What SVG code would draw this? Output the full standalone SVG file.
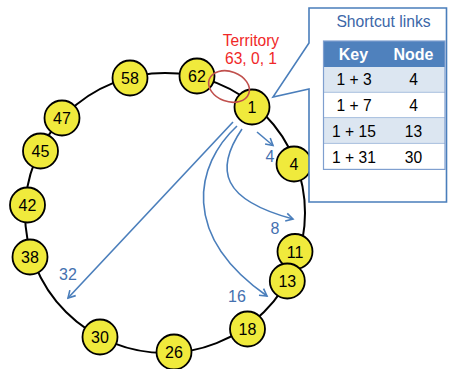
<svg xmlns="http://www.w3.org/2000/svg" width="449" height="369" viewBox="0 0 449 369">
<style>
  .node circle { fill: #F0EA3C; stroke: #000; stroke-width: 1.8; }
  .node text { font-family: "Liberation Sans", Arial, sans-serif; font-size: 16px; fill: #000; text-anchor: middle; }
  .conn { fill: none; stroke: #4A7EBB; stroke-width: 1.6; }
  .lbl { font-family: "Liberation Sans", Arial, sans-serif; font-size: 16px; fill: #4471B0; text-anchor: middle; }
  .red { font-family: "Liberation Sans", Arial, sans-serif; font-size: 15.6px; fill: #F02828; text-anchor: middle; }
  .cell { font-family: "Liberation Sans", Arial, sans-serif; font-size: 15.6px; fill: #000; text-anchor: middle; }
  .hdr { font-family: "Liberation Sans", Arial, sans-serif; font-size: 16px; font-weight: bold; fill: #fff; text-anchor: middle; }
</style>
<defs>
  <marker id="arr" markerWidth="10" markerHeight="10" refX="8" refY="5" orient="auto" markerUnits="userSpaceOnUse">
    <path d="M1,1 L8,5 L1,9" fill="none" stroke="#4A7EBB" stroke-width="1.6"/>
  </marker>
</defs>
<rect width="449" height="369" fill="#fff"/>
<circle id="ring" cx="165" cy="213" r="140" fill="none" stroke="#000" stroke-width="2"/>
<g id="connectors">
  <path class="conn" d="M257,132 L273,145.5" marker-end="url(#arr)"/>
  <path class="conn" d="M242,129 C214,170 222,200 293,219" marker-end="url(#arr)"/>
  <path class="conn" d="M237,126 C195,165 180,235 267,296" marker-end="url(#arr)"/>
  <path class="conn" d="M233,122 L68,298" marker-end="url(#arr)"/>
  <text class="lbl" x="270" y="162">4</text>
  <text class="lbl" x="275" y="234">8</text>
  <text class="lbl" x="237" y="302">16</text>
  <text class="lbl" x="68" y="280">32</text>
</g>
<g id="n58" class="node"><circle cx="130" cy="78" r="17.5"/><text x="130" y="84">58</text></g>
<g id="n47" class="node"><circle cx="62" cy="118" r="17.5"/><text x="62" y="124">47</text></g>
<g id="n45" class="node"><circle cx="40.5" cy="151" r="17.5"/><text x="40.5" y="157">45</text></g>
<g id="n42" class="node"><circle cx="27.5" cy="205" r="17.5"/><text x="27.5" y="211">42</text></g>
<g id="n38" class="node"><circle cx="30" cy="257" r="17.5"/><text x="30" y="263">38</text></g>
<g id="n30" class="node"><circle cx="100" cy="337" r="17.5"/><text x="100" y="343">30</text></g>
<g id="n26" class="node"><circle cx="174" cy="352" r="17.5"/><text x="174" y="358">26</text></g>
<g id="n18" class="node"><circle cx="247.5" cy="329" r="17.5"/><text x="247.5" y="335">18</text></g>
<g id="n11" class="node"><circle cx="295" cy="251.5" r="17.5"/><text x="295" y="257.5">11</text></g>
<g id="n13" class="node"><circle cx="287.3" cy="281" r="17.5"/><text x="287.3" y="287">13</text></g>
<g id="n4" class="node"><circle cx="294" cy="164" r="17.5"/><text x="294" y="170">4</text></g>
<g id="n62" class="node"><circle cx="197" cy="76" r="17.5"/><text x="197" y="82">62</text></g>
<g id="n1" class="node"><circle cx="252" cy="107" r="17.5"/><text x="252" y="113">1</text></g>
<g id="territory">
  <ellipse cx="229" cy="86.5" rx="21" ry="15" transform="rotate(20 229 86.5)" fill="none" stroke="#C0504D" stroke-width="1.6"/>
  <text class="red" x="251" y="46">Territory</text>
  <text class="red" x="251" y="63.5">63, 0, 1</text>
</g>
<g id="callout">
  <path d="M309,8 L446.5,8 L446.5,202 L309,202 L309,89 L273,97 L309,43 Z" fill="#fff" stroke="#4A7EBB" stroke-width="1.6"/>
  <text x="383.5" y="27" font-family="Liberation Sans, Arial, sans-serif" font-size="15.7" fill="#3C67A8" text-anchor="middle">Shortcut links</text>
  <rect x="323.5" y="41" width="121.5" height="26" fill="#4F81BD"/>
  <rect x="323.5" y="67" width="121.5" height="25.3" fill="#DCE6F1"/>
  <rect x="323.5" y="92.3" width="121.5" height="25.3" fill="#fff"/>
  <rect x="323.5" y="117.6" width="121.5" height="25.8" fill="#DCE6F1"/>
  <rect x="323.5" y="143.4" width="121.5" height="26" fill="#fff"/>
  <g stroke="#A7BFDE" stroke-width="1">
    <line x1="323.5" y1="92.3" x2="445" y2="92.3"/>
    <line x1="323.5" y1="117.6" x2="445" y2="117.6"/>
    <line x1="323.5" y1="143.4" x2="445" y2="143.4"/>
  </g>
  <rect x="323.5" y="41" width="121.5" height="128.4" fill="none" stroke="#7F9FCF" stroke-width="1.2"/>
  <text class="hdr" x="353.5" y="60">Key</text>
  <text class="hdr" x="413.5" y="60">Node</text>
  <text class="cell" x="354" y="85">1 + 3</text>
  <text class="cell" x="413.5" y="85">4</text>
  <text class="cell" x="354" y="111">1 + 7</text>
  <text class="cell" x="413.5" y="111">4</text>
  <text class="cell" x="354" y="137.3">1 + 15</text>
  <text class="cell" x="413.5" y="137.3">13</text>
  <text class="cell" x="354" y="163.3">1 + 31</text>
  <text class="cell" x="413.5" y="163.3">30</text>
</g>
</svg>
